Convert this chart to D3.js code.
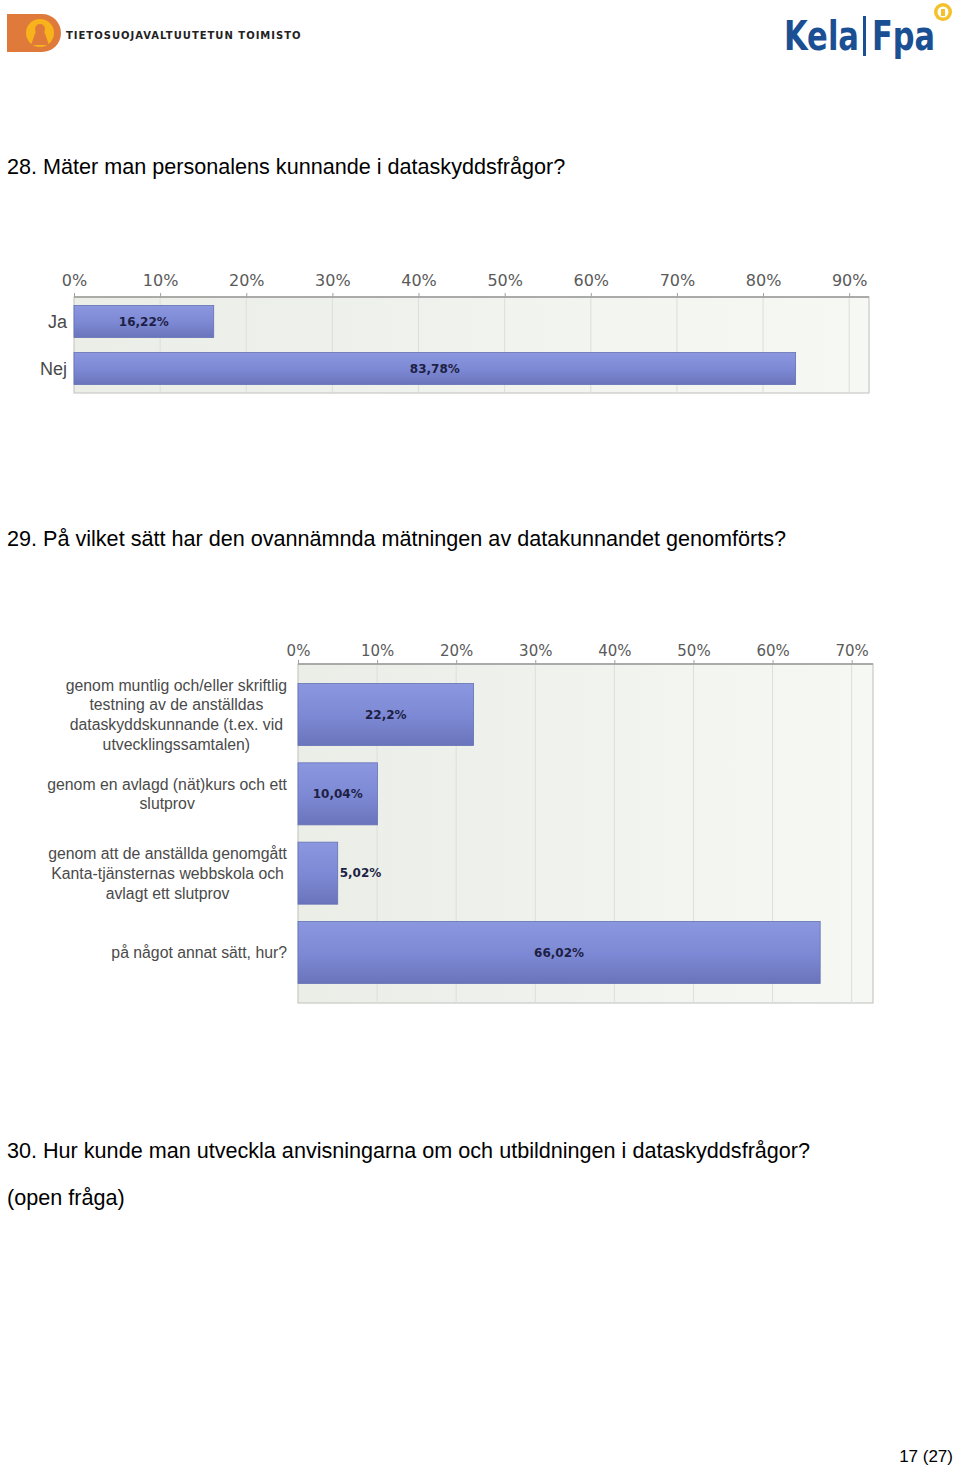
<!DOCTYPE html>
<html><head><meta charset="utf-8">
<script src="https://cdn.jsdelivr.net/npm/d3@7"></script>
<style>
body{margin:0;background:#fff;}
svg{display:block;}
</style></head>
<body>
<svg id="page" width="960" height="1469"></svg>
<script>
// ---- data ----
const q28Title = "28. Mäter man personalens kunnande i dataskyddsfrågor?";
const q28Categories = ["Ja", "Nej"];
const q28Values = [16.22, 83.78];
const q28Labels = ["16,22%", "83,78%"];
const q28Ticks = [0, 10, 20, 30, 40, 50, 60, 70, 80, 90];

const q29Title = "29. På vilket sätt har den ovannämnda mätningen av datakunnandet genomförts?";
const q29Categories = [
  ["genom muntlig och/eller skriftlig", "testning av de anställdas", "dataskyddskunnande (t.ex. vid", "utvecklingssamtalen)"],
  ["genom en avlagd (nät)kurs och ett", "slutprov"],
  ["genom att de anställda genomgått", "Kanta-tjänsternas webbskola och", "avlagt ett slutprov"],
  ["på något annat sätt, hur?"]
];
const q29Values = [22.2, 10.04, 5.02, 66.02];
const q29Labels = ["22,2%", "10,04%", "5,02%", "66,02%"];
const q29Ticks = [0, 10, 20, 30, 40, 50, 60, 70];

const q30Title = "30. Hur kunde man utveckla anvisningarna om och utbildningen i dataskyddsfrågor?";
const q30Note = "(open fråga)";
const pageNo = "17 (27)";

const svg = d3.select("#page");
const defs = svg.append("defs");

// gradients
const barGrad = defs.append("linearGradient").attr("id","barGrad").attr("x1",0).attr("x2",0).attr("y1",0).attr("y2",1);
barGrad.append("stop").attr("offset","0%").attr("stop-color","#8b98e0");
barGrad.append("stop").attr("offset","55%").attr("stop-color","#7c88d3");
barGrad.append("stop").attr("offset","100%").attr("stop-color","#6a74bb");
const bgGrad = defs.append("linearGradient").attr("id","bgGrad").attr("x1",0).attr("x2",1).attr("y1",0).attr("y2",0);
bgGrad.append("stop").attr("offset","0%").attr("stop-color","#eaeee7");
bgGrad.append("stop").attr("offset","100%").attr("stop-color","#f6f8f4");

// ---- header logos ----
const logo = svg.append("g");
logo.append("path").attr("d","M7,14 H42 A19,19 0 0 1 42,52 H7 Z").attr("fill","#e07a3a");
logo.append("circle").attr("cx",40).attr("cy",33).attr("r",14).attr("fill","#f7b21c");
logo.append("circle").attr("cx",40).attr("cy",29).attr("r",5).attr("fill","#e07a3a");
logo.append("path").attr("d","M36,31 L44,31 L49,45 L31,45 Z").attr("fill","#e07a3a");
logo.append("text").attr("x",66).attr("y",39).attr("font-family","DejaVu Sans").attr("font-weight","bold")
  .attr("font-size",10).attr("letter-spacing",1.0).attr("fill","#222").text("TIETOSUOJAVALTUUTETUN TOIMISTO");

const kela = svg.append("g");
kela.append("text").attr("x",784).attr("y",50).attr("font-family","DejaVu Sans Condensed, DejaVu Sans").attr("font-weight","bold")
  .attr("font-size",40).attr("fill","#1b4f93").attr("textLength",75).attr("lengthAdjust","spacingAndGlyphs").text("Kela");
kela.append("rect").attr("x",863).attr("y",16).attr("width",3).attr("height",40).attr("fill","#1b4f93");
kela.append("text").attr("x",872).attr("y",50).attr("font-family","DejaVu Sans Condensed, DejaVu Sans").attr("font-weight","bold")
  .attr("font-size",40).attr("fill","#1b4f93").attr("textLength",63).attr("lengthAdjust","spacingAndGlyphs").text("Fpa");
kela.append("circle").attr("cx",943).attr("cy",12).attr("r",9).attr("fill","#f5c12a");
kela.append("circle").attr("cx",943).attr("cy",12).attr("r",5.5).attr("fill","#fff");
kela.append("rect").attr("x",941).attr("y",9).attr("width",4).attr("height",7).attr("fill","#f5c12a");

// ---- titles ----
function heading(txt, y){
  svg.append("text").attr("x",7).attr("y",y).attr("font-family","Liberation Sans, Arial").attr("font-size",21.6)
    .attr("fill","#000").text(txt);
}
heading(q28Title, 174);
heading(q29Title, 546);
heading(q30Title, 1158);
heading(q30Note, 1205);
svg.append("text").attr("x",953).attr("y",1462).attr("text-anchor","end").attr("font-family","Liberation Sans, Arial")
  .attr("font-size",17).attr("fill","#000").text(pageNo);

// ---- chart builder ----
function chart(o){
  const g = svg.append("g");
  const x = d3.scaleLinear().domain([0, o.max]).range([o.x0, o.x1]);
  const y = d3.scaleBand().domain(d3.range(o.values.length)).range([o.y0, o.y1])
    .paddingInner(o.pi).paddingOuter(o.po);
  g.append("rect").attr("x",o.x0).attr("y",o.y0).attr("width",o.x1-o.x0).attr("height",o.y1-o.y0)
    .attr("fill","url(#bgGrad)").attr("stroke","#c8cac6").attr("stroke-width",1.2);
  // grid
  g.selectAll("line.grid").data(o.ticks.filter(t=>t>0)).join("line").attr("class","grid")
    .attr("x1",d=>x(d)).attr("x2",d=>x(d)).attr("y1",o.y0).attr("y2",o.y1)
    .attr("stroke","#dcdedb").attr("stroke-width",1);
  // axis (top)
  const axis = d3.axisTop(x).tickValues(o.ticks).tickFormat(d=>d+"%").tickSize(4).tickPadding(o.tickPad);
  const ag = g.append("g").attr("transform",`translate(0,${o.y0})`).call(axis);
  ag.select(".domain").attr("stroke","#9a9a9a").attr("stroke-width",1.6).attr("d",`M${o.x0},0H${o.x1}`);
  ag.selectAll(".tick line").attr("stroke","#a0a0a0");
  ag.selectAll(".tick text").attr("font-family","DejaVu Sans").attr("font-size",o.tickSize).attr("fill","#5a5a5a");
  // bars
  g.selectAll("rect.bar").data(o.values).join("rect").attr("class","bar")
    .attr("x",x(0)).attr("y",(d,i)=>y(i)).attr("width",d=>x(d)-x(0)).attr("height",y.bandwidth())
    .attr("fill","url(#barGrad)").attr("stroke","#6570b5").attr("stroke-width",0.8);
  // value labels
  g.selectAll("text.val").data(o.values).join("text").attr("class","val")
    .attr("x",(d,i)=> (x(d)-x(0) > o.minInside) ? (x(0)+x(d))/2 : x(d)+2)
    .attr("text-anchor",(d)=> (x(d)-x(0) > o.minInside) ? "middle" : "start")
    .attr("y",(d,i)=>y(i)+y.bandwidth()/2).attr("dy","0.36em")
    .attr("font-family","DejaVu Sans").attr("font-weight","bold").attr("font-size",12)
    .attr("fill","#1d1f45").text((d,i)=>o.labels[i]);
  // category labels
  o.cats.forEach((lines,i)=>{
    const t = g.append("text").attr("font-family","Liberation Sans, Arial").attr("font-size",o.catSize)
      .attr("fill","#4a4a4a");
    const lh = o.lineH;
    const cy = y(i)+y.bandwidth()/2 - (lines.length-1)*lh/2;
    lines.forEach((ln,j)=>{
      t.append("tspan").attr("y",cy+j*lh).attr("dy","0.36em").text(ln);
    });
    const widths = [];
    t.selectAll("tspan").each(function(){ widths.push(this.getComputedTextLength()); });
    const maxW = d3.max(widths);
    t.attr("text-anchor","middle");
    t.selectAll("tspan").attr("x", o.labelRight - maxW/2);
  });
}

chart({values:q28Values, labels:q28Labels, cats:q28Categories.map(c=>[c]), ticks:q28Ticks,
  max:92.3, x0:74, x1:869, y0:297, y1:393, pi:0.32, po:0.18, tickSize:16, tickPad:7, catSize:18, lineH:20,
  labelRight:67, minInside:30});

chart({values:q29Values, labels:q29Labels, cats:q29Categories, ticks:q29Ticks,
  max:72.7, x0:298, x1:873, y0:664, y1:1003, pi:0.218, po:0.246, tickSize:15, tickPad:4, catSize:15.8, lineH:19.7,
  labelRight:287, minInside:50});
</script>
</body></html>
